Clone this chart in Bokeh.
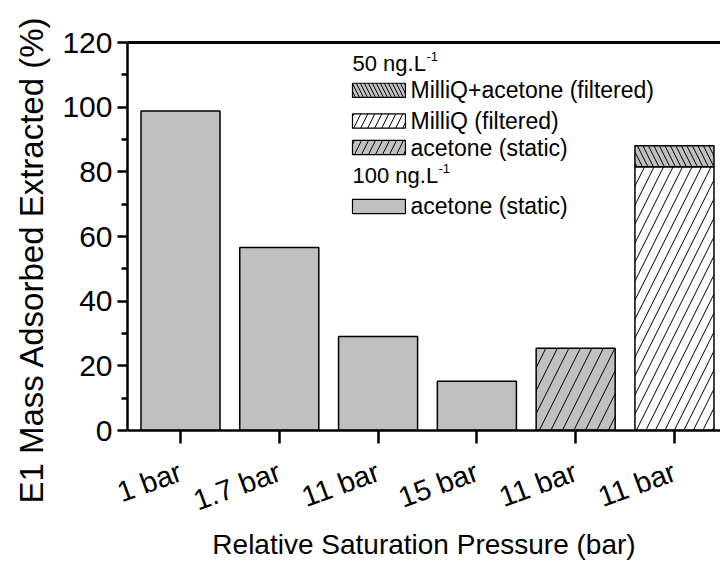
import math
from bokeh.plotting import figure
from bokeh.models import (LinearAxis, FixedTicker, Range1d, Label, Title)
from bokeh.embed import file_html
from bokeh.resources import INLINE

# ---------------- data ----------------
tick_labels = ["1 bar", "1.7 bar", "11 bar", "15 bar", "11 bar", "11 bar"]
pos_100_acetone = [1, 2, 3, 4]
val_100_acetone = [98.8, 56.6, 29.1, 15.2]          # 100 ng/L, acetone (static)
pos_50_acetone = [5]
val_50_acetone = [25.4]                              # 50 ng/L, acetone (static)
pos_50_milliq = [6]
val_50_milliq = [81.6]                               # 50 ng/L, MilliQ (filtered)
val_50_milliq_acetone = [6.5]                        # 50 ng/L, MilliQ+acetone (filtered), stacked

FONT = "Liberation Sans"
GRAY = "#C0C0C0"

X0, X1 = 0.4636, 6.466
p = figure(width=720, height=562, output_backend="svg", toolbar_location=None,
           x_range=Range1d(X0, X1), y_range=Range1d(0, 120),
           min_border_left=127, min_border_right=0, min_border_top=42,
           min_border_bottom=132)
p.xgrid.visible = False
p.ygrid.visible = False
p.outline_line_color = None
p.background_fill_color = "white"
p.border_fill_color = "white"

W = 0.8
p.vbar(x=pos_100_acetone, top=val_100_acetone, bottom=0, width=W,
       fill_color=GRAY, line_color="black", line_width=1.5)
p.vbar(x=pos_50_acetone, top=val_50_acetone, bottom=0, width=W,
       fill_color=GRAY, line_color="black", line_width=1.5,
       hatch_pattern="/", hatch_color="black", hatch_scale=23, hatch_weight=1)
p.vbar(x=pos_50_milliq, top=val_50_milliq, bottom=0, width=W,
       fill_color="white", line_color="black", line_width=1.5,
       hatch_pattern="/", hatch_color="black", hatch_scale=19, hatch_weight=1)
tops = [a + b for a, b in zip(val_50_milliq, val_50_milliq_acetone)]
p.vbar(x=pos_50_milliq, top=tops, bottom=val_50_milliq, width=W,
       fill_color=GRAY, line_color="black", line_width=1.5,
       hatch_pattern="\\", hatch_color="black", hatch_scale=11, hatch_weight=1)

# ---------------- axes ----------------
xa = p.xaxis[0]
xa.ticker = FixedTicker(ticks=[1, 2, 3, 4, 5, 6])
xa.major_label_overrides = {i + 1: t for i, t in enumerate(tick_labels)}
xa.major_label_orientation = 0.35
xa.major_label_text_font = FONT
xa.major_label_text_font_size = "29px"
xa.major_label_text_color = "black"
xa.major_label_standoff = 27
xa.axis_label = "Relative Saturation Pressure (bar)"
xa.axis_label_text_font = FONT
xa.axis_label_text_font_style = "normal"
xa.axis_label_text_font_size = "28px"
xa.axis_label_text_color = "black"
xa.axis_label_standoff = -6
xa.axis_line_width = 2.5
xa.major_tick_line_width = 2.5
xa.major_tick_out = 13
xa.major_tick_in = 0
xa.minor_tick_line_color = None

ya = p.yaxis[0]
ya.ticker = FixedTicker(ticks=[0, 20, 40, 60, 80, 100, 120],
                        minor_ticks=[10, 30, 50, 70, 90, 110])
ya.major_label_text_font = FONT
ya.major_label_text_font_size = "30px"
ya.major_label_text_color = "black"
ya.major_label_standoff = 5
ya.axis_line_width = 2.5
ya.major_tick_line_width = 2.5
ya.minor_tick_line_width = 2.5
ya.major_tick_out = 10
ya.major_tick_in = 0
ya.minor_tick_out = 6
ya.minor_tick_in = 0

# y-axis title, as a side title so it can be as large and as low as in the reference
ytitle = Title(text="E1 Mass Adsorbed Extracted (%)", align="left", offset=-73,
               standoff=19, text_font=FONT, text_font_size="33px",
               text_font_style="normal", text_color="black")
p.add_layout(ytitle, "left")

top_axis = LinearAxis(ticker=FixedTicker(ticks=[]), axis_line_width=3,
                      major_tick_line_color=None, minor_tick_line_color=None,
                      major_label_standoff=0)
p.add_layout(top_axis, "above")

# ---------------- legend (custom) ----------------
sw_x0, sw_x1 = 2.741, 3.277
txt_x = 3.328
rows = [
    ("MilliQ+acetone (filtered)", 105.2, GRAY, "\\", 8),
    ("MilliQ (filtered)", 95.7, "white", "/", 14),
    ("acetone (static)", 87.5, GRAY, "/", 14),
    ("acetone (static)", 69.3, GRAY, " ", 10),
]
hh = 2.2
for text, yc, fc, hp, hs in rows:
    p.quad(left=[sw_x0], right=[sw_x1], bottom=[yc - hh], top=[yc + hh],
           fill_color=fc, line_color="black", line_width=1.2,
           hatch_pattern=hp, hatch_color="black", hatch_scale=hs, hatch_weight=1)
    p.add_layout(Label(x=txt_x, y=yc, text=text, text_baseline="middle",
                       text_font=FONT, text_font_size="23px", text_color="black"))

for text, yc, sup_dx in [("50 ng.L", 113.5, 74), ("100 ng.L", 78.9, 86)]:
    p.add_layout(Label(x=sw_x0, y=yc, text=text, text_baseline="middle",
                       text_font=FONT, text_font_size="22px", text_color="black"))
    p.add_layout(Label(x=sw_x0, y=yc, x_offset=sup_dx, y_offset=7, text="-1",
                       text_baseline="middle", text_font=FONT,
                       text_font_size="13px", text_color="black"))

open("out.html", "w").write(file_html(p, INLINE))
